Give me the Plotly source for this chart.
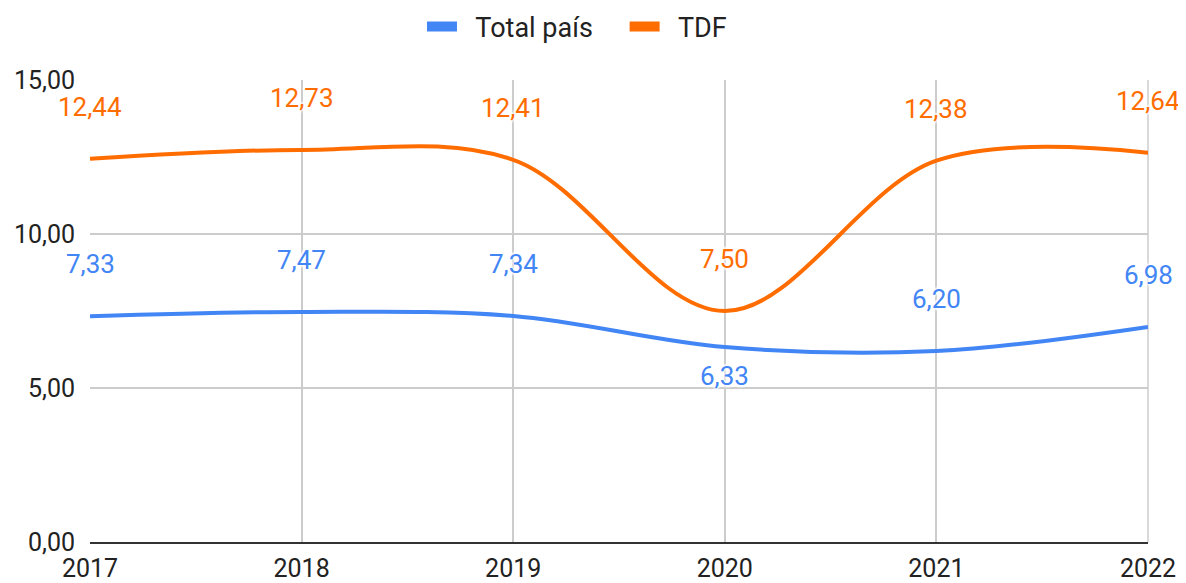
import plotly.graph_objects as go

years = [2017, 2018, 2019, 2020, 2021, 2022]
total_pais = [7.33, 7.47, 7.34, 6.33, 6.20, 6.98]
tdf = [12.44, 12.73, 12.41, 7.50, 12.38, 12.64]
total_label_pos = ["above", "above", "above", "below", "above", "above"]
tdf_label_pos = ["above"] * 6
y_ticks = [0, 5, 10, 15]
series_names = ["Total país", "TDF"]

BLUE = "#4285F4"
ORANGE = "#FF6D01"
FONT = "Roboto, Arial, sans-serif"
HALO = "2px 0px 2px white, -2px 0px 2px white, 0px 2px 2px white, 0px -2px 2px white"
NB = "\u00a0"

fig = go.Figure()
fig.add_trace(go.Scatter(x=years, y=total_pais, name=series_names[0], mode="lines", showlegend=False,
                         line=dict(color=BLUE, width=4, shape="spline", smoothing=1.0)))
fig.add_trace(go.Scatter(x=years, y=tdf, name=series_names[1], mode="lines", showlegend=False,
                         line=dict(color=ORANGE, width=4, shape="spline", smoothing=1.0)))
# legend-only entries with thick swatches
fig.add_trace(go.Scatter(x=[None], y=[None], name=NB * 2 + series_names[0] + NB * 4, mode="lines",
                         line=dict(color=BLUE, width=10)))
fig.add_trace(go.Scatter(x=[None], y=[None], name=NB * 2 + series_names[1], mode="lines",
                         line=dict(color=ORANGE, width=10)))

def fmt(v):
    return f"{v:.2f}".replace(".", ",")

annotations = []
for vals, pos, col in [(total_pais, total_label_pos, BLUE), (tdf, tdf_label_pos, ORANGE)]:
    for x, y, p in zip(years, vals, pos):
        if p == "above":
            annotations.append(dict(x=x, y=y, text=fmt(y), showarrow=False,
                                    yanchor="bottom", yshift=35, xanchor="center",
                                    font=dict(color=col, size=26, family=FONT, shadow=HALO)))
        else:
            annotations.append(dict(x=x, y=y, text=fmt(y), showarrow=False,
                                    yanchor="top", yshift=-12, xanchor="center",
                                    font=dict(color=col, size=26, family=FONT, shadow=HALO)))

fig.update_layout(
    width=1178, height=575,
    margin=dict(l=82, r=38, t=72, b=41, autoexpand=False),
    paper_bgcolor="white", plot_bgcolor="white",
    separators=",.",
    font=dict(family=FONT, size=25, color="#222222"),
    legend=dict(orientation="h", x=0.483, xanchor="center", y=1.115, yanchor="middle",
                yref="paper", xref="container", font=dict(size=27, color="#222222"),
                itemwidth=30, tracegroupgap=0),
    annotations=annotations,
    showlegend=True,
)
fig.update_xaxes(range=[2017, 2022], tickvals=years, ticktext=[str(y) for y in years],
                 showgrid=True, gridcolor="#cccccc", gridwidth=1.5, automargin=False,
                 zeroline=False, showline=True, linecolor="#333333", linewidth=2,
                 ticks="", ticklabelstandoff=3, tickfont=dict(size=25, color="#222222"))
fig.update_yaxes(range=[0, 15], tickvals=y_ticks, tickformat=".2f", automargin=False,
                 showgrid=True, gridcolor="#cccccc", gridwidth=1.5,
                 zeroline=False, showline=False, ticks="", ticklabelstandoff=14,
                 tickfont=dict(size=25, color="#222222"))
fig.add_shape(type="line", xref="paper", yref="paper", x0=1, x1=1, y0=0, y1=1,
              line=dict(color="#cccccc", width=1.5), layer="below")

fig.write_html("out.html")
